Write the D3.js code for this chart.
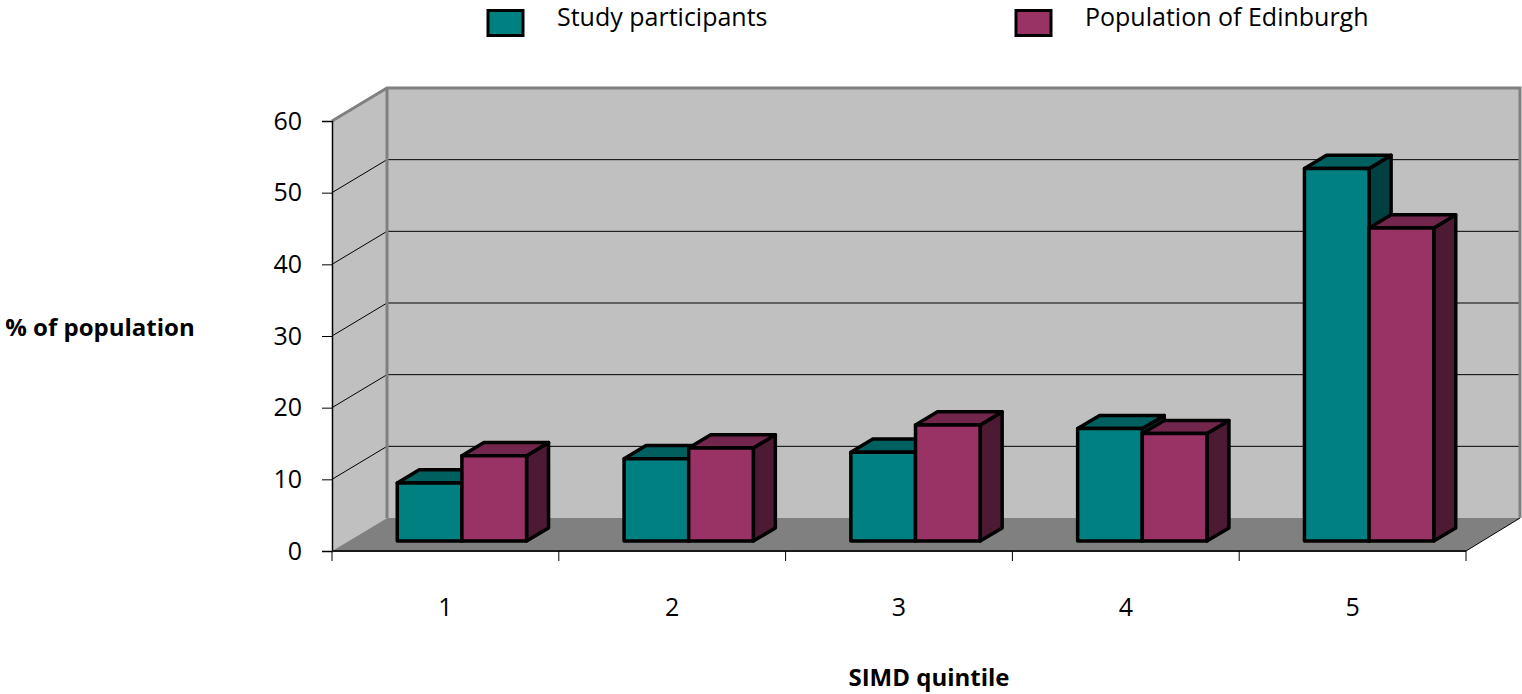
<!DOCTYPE html>
<html>
<head>
<meta charset="utf-8">
<script src="https://cdn.jsdelivr.net/npm/d3@7"></script>
<style>
  html, body { margin: 0; padding: 0; background: #ffffff; overflow: hidden; }
  svg { display: block; font-family: "Open Sans", "Noto Sans", sans-serif; }
</style>
</head>
<body>
<svg id="chart" width="1522" height="694"></svg>
<script>
// SIMD quintile distribution: study participants vs. population of Edinburgh (%)
const categories = ["1", "2", "3", "4", "5"];
const seriesNames = ["Study participants", "Population of Edinburgh"];
const studyValues = [8.1, 11.5, 12.4, 15.7, 52.0];
const edinburghValues = [11.9, 13.0, 16.2, 15.0, 43.7];
const yTickValues = [0, 10, 20, 30, 40, 50, 60];

const seriesColors = ["#008080", "#993366"];

const svg = d3.select("#chart");

// Front plane of the 3D box and the oblique offset to its back plane
const frontLeft = 332, frontRight = 1466;
const depthDX = 55, depthDY = -33;

const y = d3.scaleLinear().domain([0, 60]).range([551, 121]);
const x = d3.scaleBand().domain(categories).range([frontLeft, frontRight])
  .paddingInner(0.43).paddingOuter(0.215);
const xSeries = d3.scaleBand().domain(seriesNames).range([0, x.bandwidth()]);

// project (x on front plane, value, depth 0..1) to screen
const P = (px, v, d) => [px + d * depthDX, y(v) + d * depthDY];
const poly = pts => "M" + pts.map(p => p.join(",")).join("L") + "Z";

// darken a colour by a factor (used for the top and side faces of bars)
const shade = (c, k) => {
  const r = d3.rgb(c);
  return d3.rgb(r.r * k, r.g * k, r.b * k).formatHex();
};

const wallFill = "#c0c0c0", floorFill = "#808080", edgeGray = "#808080";

// Back wall
const backLeft = frontLeft + depthDX, backRight = 1520;
svg.append("path")
  .attr("d", poly([[backLeft, y(60) + depthDY], [backRight, y(60) + depthDY],
                   [backRight, y(0) + depthDY], [backLeft, y(0) + depthDY]]))
  .attr("fill", wallFill);

// Left side wall
svg.append("path")
  .attr("d", poly([P(frontLeft, 0, 0), P(frontLeft, 60, 0), P(frontLeft, 60, 1), P(frontLeft, 0, 1)]))
  .attr("fill", wallFill);

// Gridlines on the back wall and the side wall
const gridVals = yTickValues.filter(v => v > 0 && v < 60);
svg.append("g").selectAll("line").data(gridVals).join("line")
  .attr("x1", backLeft).attr("x2", backRight)
  .attr("y1", d => y(d) + depthDY).attr("y2", d => y(d) + depthDY)
  .attr("stroke", "#000").attr("stroke-width", 1);
svg.append("g").selectAll("line").data(gridVals).join("line")
  .attr("x1", frontLeft).attr("y1", d => y(d))
  .attr("x2", backLeft).attr("y2", d => y(d) + depthDY)
  .attr("stroke", "#000").attr("stroke-width", 1);

// Floor
svg.append("path")
  .attr("d", poly([P(frontLeft, 0, 0), P(frontRight, 0, 0), [backRight, y(0) + depthDY], P(frontLeft, 0, 1)]))
  .attr("fill", floorFill);
svg.append("line")
  .attr("x1", frontRight).attr("y1", y(0))
  .attr("x2", backRight).attr("y2", y(0) + depthDY)
  .attr("stroke", "#000").attr("stroke-width", 1);

// Wall borders
svg.append("path")
  .attr("d", "M" + P(frontLeft, 60, 0).join(",") + "L" + [backLeft, y(60) + depthDY].join(",") +
             "L" + [backRight, y(60) + depthDY].join(",") + "L" + [backRight, y(0) + depthDY].join(","))
  .attr("fill", "none").attr("stroke", edgeGray).attr("stroke-width", 3);
svg.append("line")
  .attr("x1", backLeft).attr("x2", backLeft)
  .attr("y1", y(60) + depthDY).attr("y2", y(0) + depthDY)
  .attr("stroke", edgeGray).attr("stroke-width", 3);

// Value axis
const yAxis = d3.axisLeft(y).tickValues(yTickValues).tickSize(10).tickPadding(20);
const gy = svg.append("g").attr("transform", `translate(${frontLeft},0)`).call(yAxis);
gy.select(".domain").attr("stroke", "#000").attr("stroke-width", 1.5);
gy.selectAll(".tick line").attr("stroke", "#000");
gy.selectAll(".tick text").attr("font-size", 25).attr("fill", "#000")
  .attr("font-family", "'Open Sans', sans-serif");

// Category axis line and ticks at category boundaries
svg.append("line")
  .attr("x1", frontLeft).attr("x2", frontRight)
  .attr("y1", y(0)).attr("y2", y(0))
  .attr("stroke", "#1a1a1a").attr("stroke-width", 2);
const boundaries = d3.range(categories.length + 1).map(i => frontLeft + i * x.step());
svg.append("g").selectAll("line").data(boundaries).join("line")
  .attr("x1", d => d).attr("x2", d => d)
  .attr("y1", y(0)).attr("y2", y(0) + 10)
  .attr("stroke", "#000").attr("stroke-width", 1);
svg.append("g").selectAll("text").data(categories).join("text")
  .attr("x", d => x(d) + x.bandwidth() / 2)
  .attr("y", 616)
  .attr("text-anchor", "middle")
  .attr("font-size", 25).attr("fill", "#000")
  .text(d => d);

// Bars: each is a front face, a top face and a right side face
const d0 = 0.3, d1 = 0.7;

const barData = [];
categories.forEach((c, i) => {
  [studyValues[i], edinburghValues[i]].forEach((v, s) => {
    barData.push({ cat: c, series: seriesNames[s], value: v, color: seriesColors[s] });
  });
});

const bars = svg.append("g").selectAll("g").data(barData).join("g");
bars.each(function (d) {
  const g = d3.select(this);
  const xl = x(d.cat) + xSeries(d.series);
  const xr = xl + xSeries.bandwidth();
  const v = d.value;
  const style = sel => sel.attr("stroke", "#000").attr("stroke-width", 3.5).attr("stroke-linejoin", "round");
  g.append("path")
    .attr("d", poly([P(xr, 0, d0), P(xr, 0, d1), P(xr, v, d1), P(xr, v, d0)]))
    .attr("fill", shade(d.color, 0.5)).call(style);
  g.append("path")
    .attr("d", poly([P(xl, v, d0), P(xr, v, d0), P(xr, v, d1), P(xl, v, d1)]))
    .attr("fill", shade(d.color, 0.75)).call(style);
  g.append("path")
    .attr("d", poly([P(xl, 0, d0), P(xr, 0, d0), P(xr, v, d0), P(xl, v, d0)]))
    .attr("fill", d.color).call(style);
});

// Axis titles
svg.append("text")
  .attr("x", 100).attr("y", 336)
  .attr("text-anchor", "middle")
  .attr("font-size", 24).attr("font-weight", "bold").attr("fill", "#000")
  .text("% of population");
svg.append("text")
  .attr("x", 929).attr("y", 686)
  .attr("text-anchor", "middle")
  .attr("font-size", 24).attr("font-weight", "bold").attr("fill", "#000")
  .text("SIMD quintile");

// Legend
const legendItems = [
  { name: seriesNames[0], color: seriesColors[0], x: 488 },
  { name: seriesNames[1], color: seriesColors[1], x: 1016 }
];
const lg = svg.append("g").selectAll("g").data(legendItems).join("g");
lg.append("rect")
  .attr("x", d => d.x).attr("y", 10.5)
  .attr("width", 35).attr("height", 25)
  .attr("fill", d => d.color)
  .attr("stroke", "#000").attr("stroke-width", 3);
lg.append("text")
  .attr("x", d => d.x + 69).attr("y", 26)
  .attr("font-size", 25).attr("fill", "#000")
  .text(d => d.name);
</script>
</body>
</html>
